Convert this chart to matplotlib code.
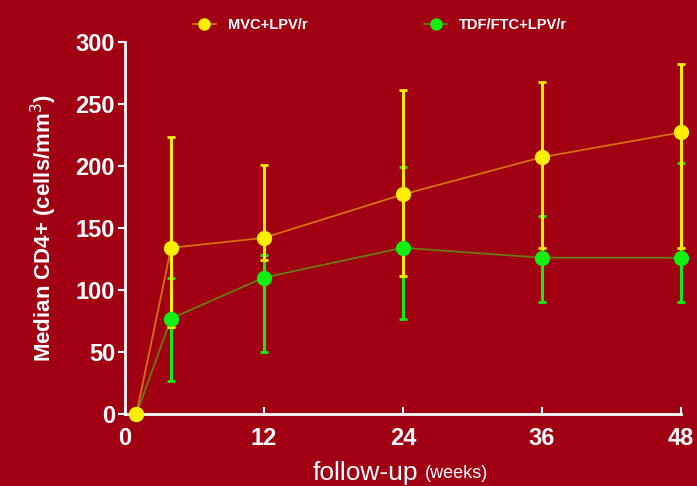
import numpy as np
import matplotlib.pyplot as plt
from matplotlib.lines import Line2D

plt.rcParams['font.family'] = ['Liberation Sans', 'DejaVu Sans']

# follow-up weeks
weeks = [1, 4, 12, 24, 36, 48]

# MVC+LPV/r: median CD4+ with upper / lower range
mvc_median = [0, 134, 142, 177, 207, 227]
mvc_upper = [0, 223, 201, 261, 268, 282]
mvc_lower = [0, 70, 124, 111, 134, 134]

# TDF/FTC+LPV/r
tdf_median = [0, 77, 110, 134, 126, 126]
tdf_upper = [0, 110, 128, 199, 160, 202]
tdf_lower = [0, 27, 50, 77, 90, 90]

bg = '#a00012'
yellow = '#ffee00'
green = '#11ee11'

fig = plt.figure(figsize=(6.97, 4.86), dpi=100, facecolor=bg)
ax = fig.add_axes([0.179, 0.148, 0.798, 0.766], facecolor=bg)

def draw(med, lo, hi, col, linecol):
    med = np.array(med)
    yerr = [med - np.array(lo), np.array(hi) - med]
    ax.plot(weeks, med, color=linecol, lw=1.3, zorder=2, clip_on=False)
    ax.errorbar(weeks, med, yerr=yerr, fmt='none', ecolor=col, elinewidth=2.2,
                capsize=3, capthick=2, zorder=3, clip_on=False)
    ax.plot(weeks, med, 'o', color=col, ms=10, zorder=4, clip_on=False)

draw(tdf_median, tdf_lower, tdf_upper, green, '#6a7a10')
draw(mvc_median, mvc_lower, mvc_upper, yellow, '#d87010')

ax.set_xlim(0, 48)
ax.set_ylim(0, 300)
ax.set_xticks([0, 12, 24, 36, 48])
ax.set_yticks(range(0, 301, 50))
for s in ['top', 'right']:
    ax.spines[s].set_visible(False)
for s in ['left', 'bottom']:
    ax.spines[s].set_color('white')
    ax.spines[s].set_linewidth(2)
ax.tick_params(axis='y', colors='white', labelsize=17, width=1.5, length=5,
               direction='out', pad=2)
ax.tick_params(axis='x', colors='white', labelsize=17, width=1.5, length=5,
               direction='in', pad=9)
for lab in ax.get_xticklabels() + ax.get_yticklabels():
    lab.set_fontweight('bold')

ax.set_ylabel('Median CD4+ (cells/mm$^3$)', color='white', fontsize=16,
              fontweight='bold', labelpad=12)

fig.text(0.449, 0.003, 'follow-up', color='white', fontsize=19, ha='left', va='bottom')
fig.text(0.609, 0.008, '(weeks)', color='white', fontsize=13, ha='left', va='bottom')

handles = [
    Line2D([], [], color='#d87010', marker='o', mfc=yellow, mec=yellow, ms=8, lw=1.3),
    Line2D([], [], color='#6a7a10', marker='o', mfc=green, mec=green, ms=8, lw=1.3),
]
leg = fig.legend(handles, ['MVC+LPV/r', 'TDF/FTC+LPV/r'], loc='upper center',
                 bbox_to_anchor=(0.545, 0.99), ncol=2, frameon=False, columnspacing=8,
                 handlelength=1.6, fontsize=10.5)
for t in leg.get_texts():
    t.set_color('white')
    t.set_fontweight('bold')

fig.savefig('out.png', dpi=100, facecolor=bg)
